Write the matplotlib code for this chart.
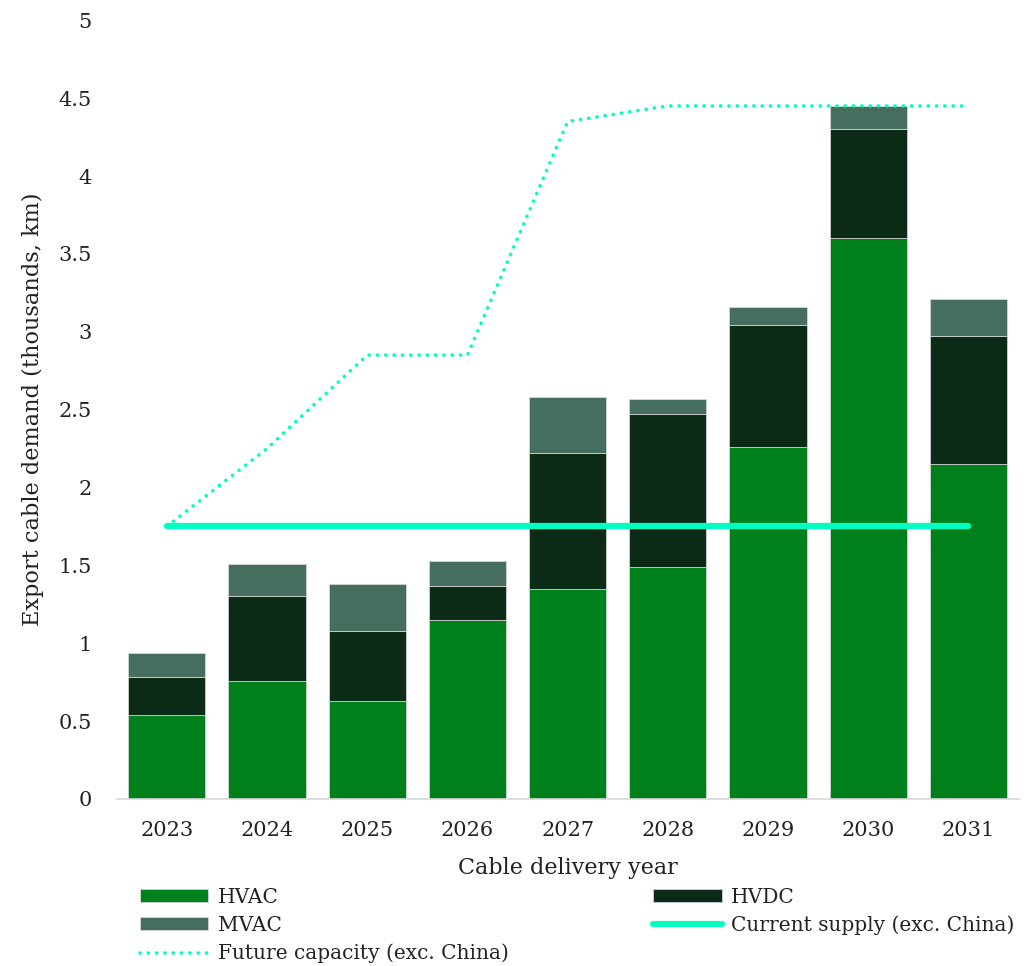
import numpy as np
import matplotlib
matplotlib.use('Agg')
from matplotlib import pyplot as plt

plt.rcParams['font.family'] = ['DejaVu Serif']

years = ['2023', '2024', '2025', '2026', '2027', '2028', '2029', '2030', '2031']
hvac = [0.54, 0.76, 0.63, 1.15, 1.35, 1.49, 2.26, 3.60, 2.15]
hvdc = [0.24, 0.54, 0.45, 0.22, 0.87, 0.98, 0.78, 0.70, 0.82]
mvac = [0.16, 0.21, 0.30, 0.16, 0.36, 0.10, 0.12, 0.15, 0.24]
current_supply = [1.75] * 9
future_capacity = [1.75, 2.25, 2.85, 2.85, 4.35, 4.45, 4.45, 4.45, 4.45]

c_hvac = '#00801A'
c_hvdc = '#0B2B16'
c_mvac = '#466E5E'
c_line = '#00FFC0'

x = np.arange(len(years))
hvac = np.array(hvac)
hvdc = np.array(hvdc)
mvac = np.array(mvac)

fig = plt.figure(figsize=(10.33, 9.66), dpi=100)
ax = fig.add_axes([0.113, 0.173, 0.873, 0.806])

w = 0.77
edge = '#dddddd'
h1 = ax.bar(x, hvac, w, color=c_hvac, edgecolor=edge, linewidth=0.5, label='HVAC', zorder=2)
h2 = ax.bar(x, hvdc, w, bottom=hvac, color=c_hvdc, edgecolor=edge, linewidth=0.5, label='HVDC', zorder=2)
h3 = ax.bar(x, mvac, w, bottom=hvac + hvdc, color=c_mvac, edgecolor=edge, linewidth=0.5, label='MVAC', zorder=2)
l1, = ax.plot(x, current_supply, color=c_line, lw=4.5, solid_capstyle='round',
              label='Current supply (exc. China)', zorder=3)
l2, = ax.plot(x, future_capacity, color=c_line, lw=2.6, linestyle=(0, (0.05, 2.25)),
              dash_capstyle='round', label='Future capacity (exc. China)', zorder=3)

ax.set_xlim(-0.5, 8.5)
ax.set_ylim(0, 5)
ax.set_xticks(x)
ax.set_xticklabels(years)
ax.set_yticks([0, 0.5, 1, 1.5, 2, 2.5, 3, 3.5, 4, 4.5, 5])
ax.set_yticklabels(['0', '0.5', '1', '1.5', '2', '2.5', '3', '3.5', '4', '4.5', '5'])
ax.tick_params(axis='both', length=0, labelsize=15, colors='#222222')
ax.tick_params(axis='x', pad=16)
ax.tick_params(axis='y', pad=18)
for s in ['top', 'right', 'left']:
    ax.spines[s].set_visible(False)
ax.spines['bottom'].set_color('#d9d9d9')
ax.spines['bottom'].set_linewidth(1.2)

ax.set_xlabel('Cable delivery year', fontsize=16, color='#222222', labelpad=12)
ax.set_ylabel('Export cable demand (thousands, km)', fontsize=16.2, color='#222222', labelpad=10)

# column-major fill: col1 HVAC, MVAC, Future; col2 HVDC, Current
handles = [h1, h3, l2, h2, l1]
labels = [h.get_label() for h in handles]
leg = fig.legend(handles, labels, loc='upper left', bbox_to_anchor=(0.118, 0.1),
                 ncol=2, frameon=False, fontsize=14.5, handlelength=3.4,
                 handleheight=0.6, handletextpad=0.45, labelspacing=0.45,
                 columnspacing=7.2)
for t in leg.get_texts():
    t.set_color('#222222')

fig.savefig('out.png', dpi=100)
